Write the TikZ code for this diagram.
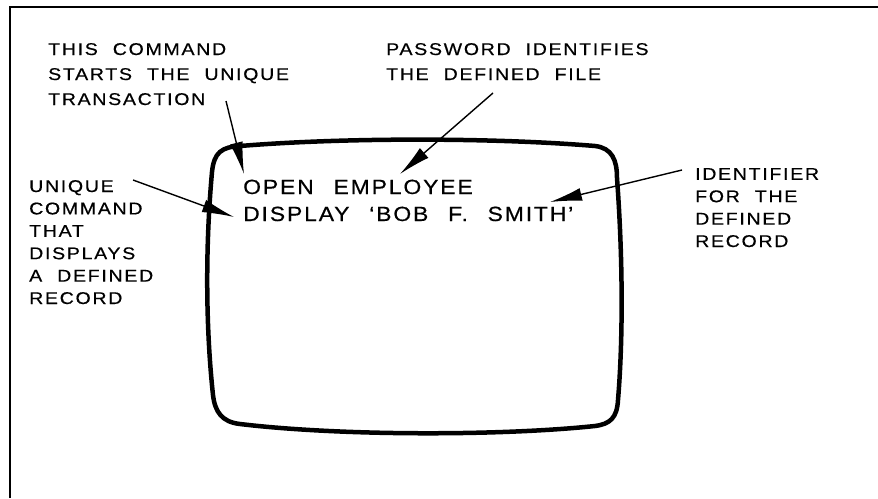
\documentclass[tikz,border=0pt]{standalone}
\usepackage{fontspec}
\setmainfont{Liberation Sans}
\newfontfamily\notefont{Liberation Sans}[FakeStretch=1.15,FakeBold=0.5,LetterSpace=10,WordSpace=2.1]
\newfontfamily\scrfont{Liberation Sans}[FakeStretch=1.12,FakeBold=0.5,LetterSpace=9,WordSpace=2.4]
\usetikzlibrary{arrows.meta}
\begin{document}
\begin{tikzpicture}[x=1pt,y=-1pt,
  note/.style={anchor=base west,inner sep=0pt,align=left,
    font=\notefont\fontsize{17}{25}\selectfont},
  side/.style={note,font=\notefont\fontsize{17}{22.4}\selectfont},
  scr/.style={anchor=base west,inner sep=0pt,align=left,
    font=\scrfont\fontsize{20.5}{27}\selectfont},
  pointer/.style={line width=1.4pt,-{Latex[length=32pt,width=13pt]}},
  screen/.style={line width=4.5pt,line join=round}]
\useasboundingbox (0,0) rectangle (878,498);
\draw[line width=2pt] (10,498) -- (10,7) -- (878,7);
% screen outline
\draw[screen] (212,172) .. controls (214,152) and (222,147) .. (240,146)
  .. controls (350,137) and (500,138) .. (595,146)
  .. controls (612,148) and (617,160) .. (617,178)
  .. controls (623,260) and (623,340) .. (618,400)
  .. controls (617,418) and (610,424) .. (595,426)
  .. controls (500,436) and (340,436) .. (240,424)
  .. controls (222,422) and (215,412) .. (213,395)
  .. controls (206,330) and (205,250) .. (212,172) -- cycle;
% texts (anchored at the baseline of the last line)
\node[note] (t1) at (48,105) {THIS COMMAND\\STARTS THE UNIQUE\\TRANSACTION};
\node[note] (t2) at (386,80) {PASSWORD IDENTIFIES\\THE DEFINED FILE};
\node[side] (t3) at (29,304) {UNIQUE\\COMMAND\\THAT\\DISPLAYS\\A DEFINED\\RECORD};
\node[side] (t4) at (695,247) {IDENTIFIER\\FOR THE\\DEFINED\\RECORD};
\node[scr] (s1) at (243,221) {OPEN EMPLOYEE\\DISPLAY ‘BOB F. SMITH’};
% connector endpoints
\coordinate (a1) at (226,101);
\coordinate (b1) at (244,174);
\coordinate (a2) at (493,93);
\coordinate (b2) at (400,174);
\coordinate (a3) at (133,180);
\coordinate (b3) at (234,217);
\coordinate (a4) at (682,170);
\coordinate (b4) at (550,202);
\draw[pointer] (a1) -- (b1);
\draw[pointer] (a2) -- (b2);
\draw[pointer] (a3) -- (b3);
\draw[pointer] (a4) -- (b4);
\end{tikzpicture}
\end{document}
